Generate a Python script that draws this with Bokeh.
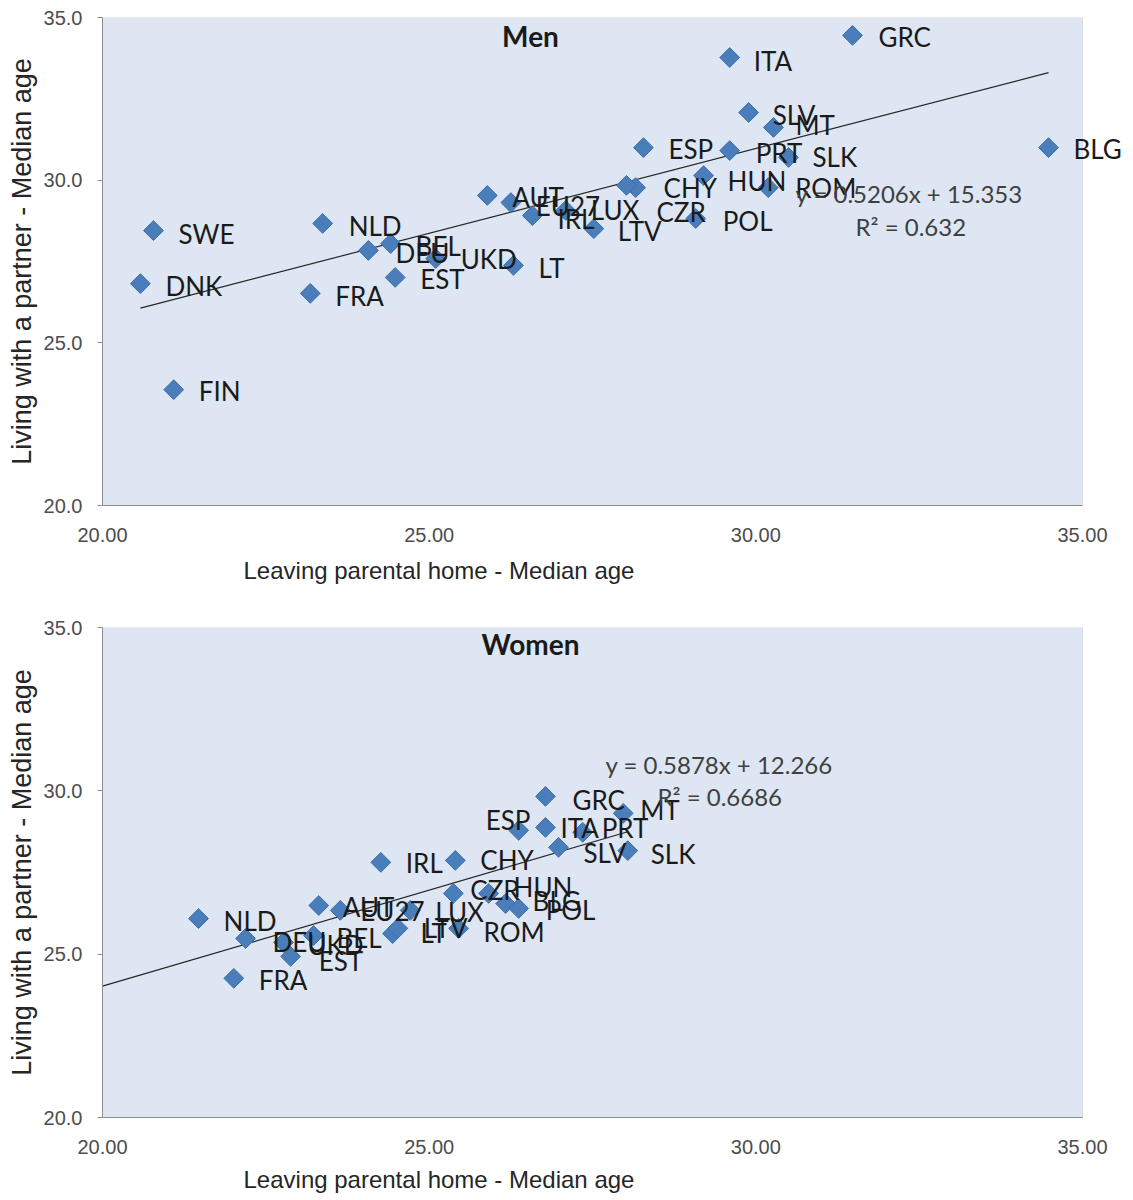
import numpy as np
from bokeh.plotting import figure
from bokeh.layouts import column
from bokeh.models import (ColumnDataSource, Label, LabelSet, Title, FixedTicker, Range1d,
                          BoxAnnotation)
from bokeh.core.properties import value
from bokeh.embed import file_html
from bokeh.resources import INLINE

# ---------------- data ----------------
men_countries = ["SWE", "DNK", "FIN", "NLD", "FRA", "DEU", "BEL", "UKD", "EST", "LT",
                 "AUT", "EU27", "IRL", "LUX", "LTV", "CHY", "CZR", "POL", "HUN", "ESP",
                 "PRT", "ROM", "SLK", "MT", "SLV", "ITA", "GRC", "BLG"]
men_leaving = [20.78, 20.58, 21.09, 23.37, 23.18, 24.07, 24.41, 25.10, 24.48, 26.29,
               25.89, 26.25, 26.58, 27.09, 27.52, 28.16, 28.02, 29.08, 29.20, 28.28,
               29.60, 30.19, 30.50, 30.27, 29.89, 29.60, 31.48, 34.48]
men_partner = [28.45, 26.82, 23.56, 28.67, 26.52, 27.84, 28.05, 27.59, 27.01, 27.38,
               29.53, 29.31, 28.91, 29.07, 28.51, 29.77, 29.84, 28.82, 30.14, 31.00,
               30.91, 29.77, 30.70, 31.62, 32.08, 33.77, 34.45, 31.00]

women_countries = ["NLD", "FRA", "DEU", "UKD", "BEL", "EST", "AUT", "EU27", "LUX", "LT",
                   "LTV", "IRL", "CHY", "CZR", "HUN", "BLG", "POL", "ROM", "ESP", "ITA",
                   "GRC", "PRT", "MT", "SLV", "SLK"]
women_leaving = [21.47, 22.01, 22.19, 22.77, 23.23, 22.88, 23.31, 23.64, 24.71, 24.44,
                 24.52, 24.26, 25.40, 25.37, 25.91, 26.17, 26.37, 25.45, 26.37, 26.78,
                 26.78, 27.35, 27.97, 26.98, 28.04]
women_partner = [26.09, 24.26, 25.48, 25.36, 25.57, 24.93, 26.49, 26.34, 26.34, 25.63,
                 25.79, 27.81, 27.87, 26.86, 26.86, 26.55, 26.40, 25.79, 28.79, 28.88,
                 29.83, 28.73, 29.31, 28.27, 28.17]

# linear trend lines (as printed on the chart): slope, intercept, R²
men_trend = [0.5206, 15.353, 0.632]
women_trend = [0.5878, 12.266, 0.6686]

axis_ticks = [20, 25, 30, 35]
x_tick_labels = ["20.00", "25.00", "30.00", "35.00"]
y_tick_labels = ["20.0", "25.0", "30.0", "35.0"]

x_title = "Leaving parental home - Median age"
y_title = "Living with a partner - Median age"

# ---------------- label placement (screen px: dx right, dy down) ----------------
men_label_offsets = {
    "SWE": (25, 3), "DNK": (25, 2), "FIN": (25, 1), "NLD": (26, 3), "FRA": (25, 3),
    "DEU": (27, 3), "BEL": (25, 2), "UKD": (25, 0), "EST": (25, 2), "LT": (25, 3),
    "AUT": (25, 2), "EU27": (25, 3), "IRL": (25, 3), "LUX": (25, 0), "LTV": (24, 2),
    "CHY": (28, 0), "CZR": (30, 27), "POL": (27, 2), "HUN": (24, 5), "ESP": (25, 1),
    "PRT": (26, 2), "ROM": (27, 0), "SLK": (24, 0), "MT": (22, -2), "SLV": (24, 3),
    "ITA": (24, 3), "GRC": (26, 2), "BLG": (25, 1),
}
women_label_offsets = {
    "NLD": (25, 2), "FRA": (25, 2), "DEU": (27, 4), "UKD": (24, 3), "BEL": (23, 2),
    "EST": (28, 5), "AUT": (24, 2), "EU27": (20, 1), "LUX": (25, 2), "LT": (28, -1),
    "LTV": (26, 0), "IRL": (25, 1), "CHY": (25, 0), "CZR": (17, -3), "HUN": (25, -6),
    "BLG": (27, -3), "POL": (27, 2), "ROM": (25, 4), "ESP": (-33, -10), "ITA": (15, 1),
    "GRC": (27, 4), "PRT": (19, -4), "MT": (17, -3), "SLV": (25, 6), "SLK": (23, 3),
}

LABEL_FONT = "Lato"
AXIS_FONT = "Liberation Sans"
MARKER_COLOR = "#4a7ebb"
BG_COLOR = "#dde6f2"

FIG_W = 1133
BORDER_L = 102
PLOT_AREA_W = 980          # pixel width of the 20..35 plot area
# the frame runs to the canvas edge so that labels (e.g. BLG) may overflow the plot area
X_END = axis_ticks[0] + (FIG_W - BORDER_L) * (axis_ticks[-1] - axis_ticks[0]) / PLOT_AREA_W


def make_panel(title, names, xs, ys, trend, trend_x0, offsets, title_xy, eq_xy, r2_xy,
               height, border_top, border_bottom, xtitle_standoff):
    p = figure(width=FIG_W, height=height,
               x_range=Range1d(axis_ticks[0], X_END),
               y_range=Range1d(axis_ticks[0], axis_ticks[-1]),
               output_backend="svg", toolbar_location=None,
               min_border_left=BORDER_L, min_border_right=0,
               min_border_top=border_top, min_border_bottom=border_bottom)
    p.background_fill_color = "white"
    p.border_fill_color = "white"
    p.outline_line_color = None
    p.grid.visible = False

    # plot area (Excel-like light blue box with grey border)
    p.add_layout(BoxAnnotation(left=axis_ticks[0], right=axis_ticks[-1],
                               bottom=axis_ticks[0], top=axis_ticks[-1],
                               fill_color=BG_COLOR, fill_alpha=1.0,
                               line_color="#a0a0a0", line_width=1, level="underlay"))

    # axes
    p.xaxis.ticker = FixedTicker(ticks=axis_ticks)
    p.yaxis.ticker = FixedTicker(ticks=axis_ticks)
    p.xaxis.bounds = (axis_ticks[0], axis_ticks[-1])
    p.xaxis.major_label_overrides = {t: s for t, s in zip(axis_ticks, x_tick_labels)}
    p.yaxis.major_label_overrides = {t: s for t, s in zip(axis_ticks, y_tick_labels)}
    for ax in (p.xaxis, p.yaxis):
        ax.axis_line_color = "#8c8c8c"
        ax.major_tick_line_color = "#8c8c8c"
        ax.minor_tick_line_color = None
        ax.major_tick_in = 0
        ax.major_label_text_font = AXIS_FONT
        ax.major_label_text_font_size = "20px"
        ax.major_label_text_color = "#4d4d4d"
    p.xaxis.major_tick_out = 0
    p.xaxis.major_label_standoff = 22
    p.yaxis.major_tick_out = 5
    p.yaxis.major_label_standoff = 15
    p.yaxis.axis_label = y_title
    p.yaxis.axis_label_text_font = AXIS_FONT
    p.yaxis.axis_label_text_font_size = "27px"
    p.yaxis.axis_label_text_font_style = "normal"
    p.yaxis.axis_label_text_color = "#262626"
    p.yaxis.axis_label_standoff = 4

    xt = Title(text=x_title, align="left", offset=141, text_font=AXIS_FONT,
               text_font_size="24px", text_font_style="normal", text_color="#262626",
               standoff=xtitle_standoff)
    p.add_layout(xt, "below")

    # trend line
    slope, intercept, r2 = trend
    tx = np.array([trend_x0, max(xs)])
    p.line(tx, slope * tx + intercept, line_color="#262626", line_width=1.2)

    # points
    src = ColumnDataSource(dict(
        x=xs, y=ys, name=names,
        dx=[offsets[n][0] for n in names],
        dy=[-offsets[n][1] for n in names],
    ))
    p.scatter("x", "y", source=src, marker="square", angle=np.pi / 4, size=14,
              fill_color=MARKER_COLOR, line_color="#3f6ea8", line_width=1)
    labels = LabelSet(x="x", y="y", text="name", x_offset="dx", y_offset="dy", source=src,
                      text_font=value(LABEL_FONT), text_font_size=value("26px"),
                      text_baseline="middle", text_align="left", text_color="#1a1a1a")
    p.add_layout(labels)

    # chart title inside plot area
    p.add_layout(Label(x=title_xy[0], y=title_xy[1], x_units="screen", y_units="screen",
                       text=title, text_font=LABEL_FONT, text_font_size="28px",
                       text_font_style="bold", text_align="center",
                       text_baseline="middle", text_color="#1a1a1a"))
    # equation
    eq = f"y = {slope}x + {intercept}"
    p.add_layout(Label(x=eq_xy[0], y=eq_xy[1], x_units="screen", y_units="screen",
                       text=eq, text_font=LABEL_FONT, text_font_size="24px",
                       text_align="left", text_baseline="middle", text_color="#404040"))
    p.add_layout(Label(x=r2_xy[0], y=r2_xy[1], x_units="screen", y_units="screen",
                       text=f"R² = {r2}", text_font=LABEL_FONT, text_font_size="24px",
                       text_align="left", text_baseline="middle", text_color="#404040"))
    return p


p_men = make_panel("Men", men_countries, men_leaving, men_partner, men_trend,
                   min(men_leaving), men_label_offsets,
                   (428, 470), (693, 312), (753, 279),
                   height=600, border_top=17, border_bottom=95, xtitle_standoff=21)
p_women = make_panel("Women", women_countries, women_leaving, women_partner, women_trend,
                     axis_ticks[0], women_label_offsets,
                     (428, 474), (503, 353), (555, 321),
                     height=600, border_top=27, border_bottom=83, xtitle_standoff=14)

layout = column(p_men, p_women, spacing=0)
open("out.html", "w").write(file_html(layout, INLINE))
